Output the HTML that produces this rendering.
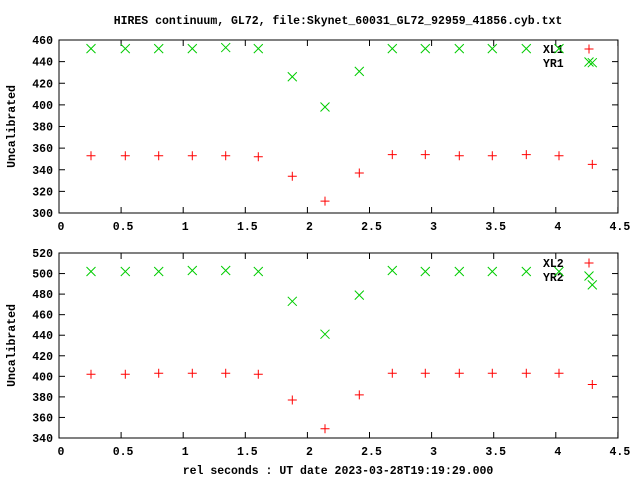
<!DOCTYPE html><html><head><style>body{margin:0;background:#fff}svg{display:block}text{font-family:"Liberation Mono","DejaVu Sans Mono",monospace;font-weight:bold;font-size:11.5px;fill:#000}</style></head><body>
<svg id="s" width="640" height="480" xmlns="http://www.w3.org/2000/svg"></svg>
<script>
var s=document.getElementById('s'),h='';
h+='<text x="338" y="24" text-anchor="middle">HIRES continuum, GL72, file:Skynet_60031_GL72_92959_41856.cyb.txt</text>';
h+='<text x="338" y="474" text-anchor="middle">rel seconds : UT date 2023-03-28T19:19:29.000</text>';
var X0=59,XS=124.2,XR=618;
function px(x){return X0+x*XS}
var xs=[91,125.3,158.7,192.3,225.7,258.3,292.3,325,359.3,392.3,425.3,459.3,492.3,526.3,559,592.3];
function plot(top,bot,ymin,ymax,step,red,grn,l1,l2,ly){
 var sc=(bot-top)/(ymax-ymin);function py(v){return bot-(v-ymin)*sc}
 h+='<rect x="'+X0+'" y="'+top+'" width="'+(XR-X0)+'" height="'+(bot-top)+'" fill="none" stroke="#000"/>';
 for(var v=ymin;v<=ymax;v+=step){var y=py(v);h+='<line x1="'+X0+'" y1="'+y+'" x2="'+(X0+6)+'" y2="'+y+'" stroke="#000"/><line x1="'+XR+'" y1="'+y+'" x2="'+(XR-6)+'" y2="'+y+'" stroke="#000"/><text x="'+(X0-6)+'" y="'+(y+4)+'" text-anchor="end">'+v+'</text>';}
 for(var i=0;i<=9;i++){var x=px(i*0.5);h+='<line x1="'+x+'" y1="'+bot+'" x2="'+x+'" y2="'+(bot-6)+'" stroke="#000"/><line x1="'+x+'" y1="'+top+'" x2="'+x+'" y2="'+(top+6)+'" stroke="#000"/><text x="'+(x+2)+'" y="'+(bot+17)+'" text-anchor="middle">'+(i*0.5)+'</text>';}
 h+='<text transform="translate(15,'+((top+bot)/2)+') rotate(-90)" text-anchor="middle">Uncalibrated</text>';
 function P(x,y){h+='<path d="M'+(x-4.5)+' '+y+'h9M'+x+' '+(y-4.5)+'v9" stroke="#f00" fill="none"/>'}
 function Xm(x,y){h+='<path d="M'+(x-4.5)+' '+(y-4.5)+'l9 9M'+(x-4.5)+' '+(y+4.5)+'l9 -9" stroke="#0c0" fill="none"/>'}
 h+='<text x="543" y="'+(ly+4)+'">'+l1+'</text><text x="543" y="'+(ly+18)+'">'+l2+'</text>';
 P(589,ly);Xm(589,ly+13);
 for(var i=0;i<16;i++){if(red[i]!=null)P(xs[i],py(red[i]));if(grn[i]!=null)Xm(xs[i],py(grn[i]));}
}
plot(40,213,300,460,20,[353,353,353,353,353,352,334,311,337,354,354,353,353,354,353,345],[452,452,452,452,453,452,426,398,431,452,452,452,452,452,452,439],'XL1','YR1',49);
plot(253,438,340,520,20,[402,402,403,403,403,402,377,349,382,403,403,403,403,403,403,392],[502,502,502,503,503,502,473,441,479,503,502,502,502,502,502,489],'XL2','YR2',263);
s.innerHTML=h;
</script></body></html>
